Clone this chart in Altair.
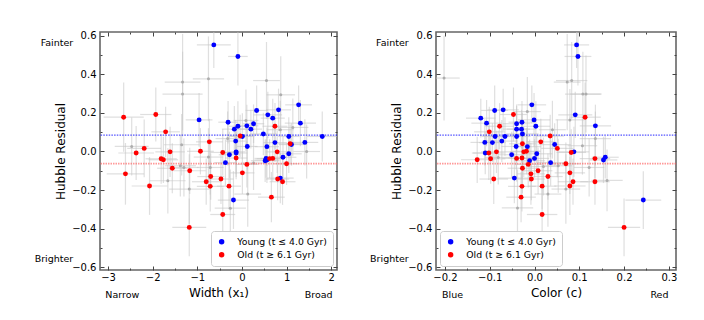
import altair as alt
import pandas as pd

# ---------------- data ----------------
young_x1 = [-0.63, -0.09, 1.27, 0.82, 0.33, 0.58, 0.69, -0.96, -0.31, 1.31, 0.26, 0.11, -0.09, -0.17, 0.20, 0.48, 0.01, 1.05, 1.80, -0.14, 1.41, 0.74, 1.11, 0.12, 0.56, -0.13, -0.13, 1.05, -0.28, 0.92, 0.54, 0.56, 0.52, -0.37, 0.86, -0.19]
young_c = [0.094, 0.097, -0.006, -0.070, -0.089, 0.091, -0.120, -0.001, -0.028, -0.107, -0.040, 0.136, 0.003, -0.040, -0.029, -0.027, -0.088, -0.066, -0.040, -0.073, -0.111, -0.094, 0.045, -0.041, -0.016, 0.088, -0.110, 0.005, -0.051, 0.158, 0.000, 0.154, -0.011, 0.036, -0.045, 0.243]
young_hr = [0.553, 0.493, 0.242, 0.216, 0.213, 0.190, 0.173, 0.164, 0.152, 0.147, 0.144, 0.133, 0.131, 0.116, 0.116, 0.091, 0.078, 0.078, 0.078, 0.054, 0.047, 0.046, 0.036, 0.026, 0.025, -0.002, -0.008, -0.012, -0.017, -0.030, -0.036, -0.044, -0.048, -0.058, -0.138, -0.252]
young_hr_err = [0.12, 0.15, 0.10, 0.11, 0.13, 0.12, 0.10, 0.14, 0.11, 0.12, 0.10, 0.11, 0.13, 0.12, 0.10, 0.11, 0.12, 0.10, 0.13, 0.11, 0.12, 0.10, 0.11, 0.12, 0.10, 0.13, 0.11, 0.10, 0.12, 0.11, 0.10, 0.12, 0.11, 0.12, 0.13, 0.15]
young_x1_err = [0.38, 0.22, 0.30, 0.28, 0.25, 0.32, 0.27, 0.30, 0.22, 0.35, 0.24, 0.26, 0.20, 0.28, 0.25, 0.30, 0.27, 0.24, 0.34, 0.22, 0.30, 0.26, 0.28, 0.23, 0.27, 0.21, 0.25, 0.29, 0.24, 0.30, 0.26, 0.28, 0.32, 0.25, 0.30, 0.35]
young_c_err = [0.028, 0.030, 0.032, 0.035, 0.030, 0.038, 0.033, 0.036, 0.030, 0.034, 0.031, 0.035, 0.032, 0.030, 0.033, 0.036, 0.030, 0.034, 0.031, 0.035, 0.032, 0.030, 0.036, 0.033, 0.031, 0.034, 0.030, 0.035, 0.032, 0.030, 0.033, 0.031, 0.034, 0.032, 0.036, 0.040]

old_x1 = [-1.93, -2.65, 0.74, -1.71, -0.04, -0.73, 1.08, -2.19, -0.93, -1.61, 0.79, -0.43, -2.37, -0.13, 0.69, 0.62, -1.81, -1.76, 1.00, 0.11, -1.56, -1.17, 0.01, -2.61, -0.70, -0.47, 0.80, -0.80, 0.91, -0.71, -0.29, -2.07, 0.66, -0.43, -1.18]
old_c = [-0.047, 0.113, -0.078, -0.101, 0.035, 0.014, -0.027, 0.051, -0.018, -0.024, -0.085, 0.082, -0.102, -0.028, -0.040, 0.135, -0.098, -0.128, 0.070, -0.014, -0.027, 0.008, 0.079, -0.008, 0.030, -0.091, -0.007, 0.086, 0.135, -0.028, 0.017, 0.079, -0.030, 0.017, 0.200]
old_hr = [0.192, 0.178, 0.131, 0.102, 0.080, 0.050, 0.040, 0.016, 0.001, -0.002, -0.002, -0.005, -0.008, -0.034, -0.036, -0.037, -0.038, -0.043, -0.064, -0.067, -0.087, -0.100, -0.111, -0.116, -0.130, -0.143, -0.143, -0.157, -0.157, -0.181, -0.180, -0.179, -0.237, -0.327, -0.394]
old_hr_err = [0.14, 0.18, 0.12, 0.13, 0.11, 0.12, 0.10, 0.15, 0.12, 0.13, 0.11, 0.12, 0.14, 0.11, 0.12, 0.10, 0.13, 0.12, 0.11, 0.12, 0.13, 0.12, 0.11, 0.16, 0.12, 0.13, 0.11, 0.12, 0.12, 0.13, 0.12, 0.15, 0.13, 0.14, 0.15]
old_x1_err = [0.35, 0.45, 0.28, 0.32, 0.25, 0.30, 0.27, 0.38, 0.30, 0.33, 0.26, 0.28, 0.40, 0.25, 0.27, 0.29, 0.35, 0.33, 0.28, 0.26, 0.34, 0.36, 0.27, 0.42, 0.30, 0.28, 0.26, 0.32, 0.29, 0.30, 0.27, 0.40, 0.30, 0.28, 0.38]
old_c_err = [0.030, 0.035, 0.032, 0.034, 0.031, 0.033, 0.030, 0.036, 0.032, 0.031, 0.034, 0.033, 0.035, 0.030, 0.032, 0.034, 0.033, 0.036, 0.031, 0.030, 0.033, 0.032, 0.034, 0.031, 0.033, 0.032, 0.030, 0.034, 0.033, 0.031, 0.032, 0.035, 0.033, 0.034, 0.036]

other_left_x1 = [-0.75, 0.55, -1.33, -1.33, 0.87, 0.09, 1.14, 0.86, -0.32, -1.35, -2.47, 1.45, -0.75, 0.26, -1.38, -1.30, -0.71, -1.66, -1.18, 0.13, -0.26]
other_left_hr = [0.377, 0.368, 0.360, 0.298, 0.294, 0.161, 0.125, 0.113, 0.067, 0.035, 0.026, 0.000, -0.029, -0.060, -0.074, -0.083, -0.083, -0.152, -0.195, -0.221, -0.294]
other_left_x1_err = [0.35, 0.30, 0.40, 0.45, 0.32, 0.28, 0.35, 0.30, 0.27, 0.40, 0.38, 0.30, 0.33, 0.28, 0.35, 0.33, 0.30, 0.40, 0.45, 0.30, 0.35]
other_left_hr_err = [0.22, 0.20, 0.25, 0.22, 0.20, 0.16, 0.15, 0.15, 0.14, 0.16, 0.15, 0.14, 0.15, 0.14, 0.16, 0.15, 0.14, 0.17, 0.18, 0.17, 0.20]

other_right_c = [-0.202, 0.083, 0.073, 0.108, 0.115, -0.016, 0.079, 0.040, 0.136, 0.107, -0.081, 0.020, 0.053, 0.122, 0.162, 0.070, 0.030, -0.038]
other_right_hr = [0.381, 0.368, 0.360, 0.298, 0.298, 0.207, 0.164, 0.113, 0.067, 0.030, -0.031, -0.078, -0.074, -0.083, -0.150, -0.195, -0.221, -0.293]
other_right_c_err = [0.035, 0.035, 0.030, 0.040, 0.035, 0.030, 0.032, 0.030, 0.035, 0.033, 0.030, 0.032, 0.030, 0.034, 0.035, 0.032, 0.030, 0.035]
other_right_hr_err = [0.22, 0.20, 0.25, 0.22, 0.20, 0.18, 0.16, 0.15, 0.14, 0.15, 0.14, 0.15, 0.14, 0.15, 0.16, 0.18, 0.17, 0.20]

mean_hr_young = 0.085
mean_hr_old = -0.063

YOUNG = "Young (t ≤ 4.0 Gyr)"
OLD = "Old (t ≥ 6.1 Gyr)"

FONT = "DejaVu Sans"
Y_DOMAIN = [-0.615, 0.62]
Y_MAJOR = [-0.6, -0.4, -0.2, 0.0, 0.2, 0.4, 0.6]
Y_MINOR = [-0.5, -0.3, -0.1, 0.1, 0.3, 0.5]


def frame(xs, ys, ex, ey):
    rows = []
    for x, y, a, b in zip(xs, ys, ex, ey):
        rows.append({"x": x, "y": y, "xlo": x - a, "xhi": x + a, "ylo": y - b, "yhi": y + b})
    return pd.DataFrame(rows)


def tick_axis(orient, values, size, labels=False, **kw):
    return alt.Axis(orient=orient, values=values, tickSize=size, offset=-size,
                    labels=labels, domain=False, grid=False, title="",
                    tickColor="#444", tickWidth=1, **kw)


def panel(x_vals, x_err, x_domain, x_major, x_minor, x_title, fmt,
          other_x, other_y, other_xe, other_ye, legend_orient,
          side_x, low_labels, low_x, width):
    young = frame(x_vals[0], young_hr, x_err[0], young_hr_err)
    young["g"] = YOUNG
    old = frame(x_vals[1], old_hr, x_err[1], old_hr_err)
    old["g"] = OLD
    col = pd.concat([young, old], ignore_index=True)
    oth = frame(other_x, other_y, other_xe, other_ye)
    allpts = pd.concat([col, oth], ignore_index=True)

    xs = alt.Scale(domain=x_domain, nice=False, zero=False)
    ys = alt.Scale(domain=Y_DOMAIN, nice=False, zero=False)

    xerr = alt.Chart(allpts).mark_rule(color="#c4c4c4", opacity=0.55, strokeWidth=1.2, clip=True).encode(
        x=alt.X("xlo:Q", scale=xs, axis=tick_axis("top", x_major, 4)),
        x2="xhi:Q",
        y=alt.Y("y:Q", scale=ys, axis=tick_axis("right", Y_MAJOR, 4)),
    )
    yerr = alt.Chart(allpts).mark_rule(color="#c4c4c4", opacity=0.55, strokeWidth=1.2, clip=True).encode(
        x=alt.X("x:Q", scale=xs, axis=tick_axis("bottom", x_minor, 2)),
        y=alt.Y("ylo:Q", scale=ys, axis=tick_axis("left", Y_MINOR, 2)),
        y2="yhi:Q",
    )
    grey = alt.Chart(oth).mark_circle(color="#a9a9a9", size=9, opacity=0.9).encode(
        x=alt.X("x:Q", scale=xs, axis=tick_axis("top", x_minor, 2)),
        y=alt.Y("y:Q", scale=ys, axis=tick_axis("right", Y_MINOR, 2)),
    )
    pts = alt.Chart(col).mark_circle(size=24, opacity=1).encode(
        x=alt.X("x:Q", scale=xs, axis=alt.Axis(
            orient="bottom", values=x_major, tickSize=4, offset=-4, domain=False, grid=False,
            title=x_title, titlePadding=5, titleFontSize=12, titleFontWeight="normal",
            labelPadding=2, labelFontSize=10, format=fmt, tickColor="#444", labelColor="black")),
        y=alt.Y("y:Q", scale=ys, axis=alt.Axis(
            orient="left", values=Y_MAJOR, tickSize=4, offset=-4, domain=False, grid=False,
            title="Hubble Residual", titlePadding=4, titleFontSize=12, titleFontWeight="normal",
            labelPadding=4, labelFontSize=10, format=".1f", tickColor="#444", labelColor="black")),
        color=alt.Color("g:N", scale=alt.Scale(domain=[YOUNG, OLD], range=["#0000ff", "#ff0000"]),
                        legend=alt.Legend(title=None, orient=legend_orient, offset=4,
                                          fillColor="white", strokeColor="#cccccc", cornerRadius=3,
                                          padding=6, labelFontSize=9.3, labelFont=FONT,
                                          labelOffset=11, symbolType="circle", symbolSize=30,
                                          rowPadding=3, labelColor="black")),
    )
    hl_y = alt.Chart(pd.DataFrame({"y": [mean_hr_young]})).mark_rule(
        color="#0000ff", strokeDash=[1.5, 1.2], strokeWidth=1, opacity=0.85).encode(
        y=alt.Y("y:Q", scale=ys, axis=None))
    hl_o = alt.Chart(pd.DataFrame({"y": [mean_hr_old]})).mark_rule(
        color="#ff5555", strokeDash=[1.5, 1.0], strokeWidth=1.8, opacity=0.6).encode(
        y=alt.Y("y:Q", scale=ys, axis=None))

    side = pd.DataFrame({"x": [side_x, side_x], "y": [0.562, -0.558], "t": ["Fainter", "Brighter"]})
    side_txt = alt.Chart(side).mark_text(align="right", baseline="middle", fontSize=9.5, font=FONT,
                                         color="black").encode(
        x=alt.X("x:Q", scale=xs, axis=None), y=alt.Y("y:Q", scale=ys, axis=None), text="t:N")
    low = pd.DataFrame({"x": low_x, "y": [-0.745, -0.745], "t": low_labels})
    low_txt = alt.Chart(low).mark_text(align="center", baseline="middle", fontSize=9.5, font=FONT,
                                       color="black").encode(
        x=alt.X("x:Q", scale=xs, axis=None), y=alt.Y("y:Q", scale=ys, axis=None), text="t:N")

    return alt.layer(xerr, yerr, grey, hl_y, hl_o, pts, side_txt, low_txt).resolve_axis(
        x="independent", y="independent").properties(width=width, height=238)


left = panel([young_x1, old_x1], [young_x1_err, old_x1_err], [-3.18, 2.13],
             [-3, -2, -1, 0, 1, 2], [-2.5, -1.5, -0.5, 0.5, 1.5], "Width (x₁)", "d",
             other_left_x1, other_left_hr, other_left_x1_err, other_left_hr_err,
             "bottom-right", -3.78, ["Narrow", "Broad"], [-2.68, 1.72], 237)
right = panel([young_c, old_c], [young_c_err, old_c_err], [-0.22, 0.316],
              [-0.2, -0.1, 0.0, 0.1, 0.2, 0.3], [-0.15, -0.05, 0.05, 0.15, 0.25], "Color (c)", ".1f",
              other_right_c, other_right_hr, other_right_c_err, other_right_hr_err,
              "bottom-left", -0.281, ["Blue", "Red"], [-0.183, 0.279], 240)

chart = alt.hconcat(left, right, spacing=99, bounds="flush").resolve_scale(
    color="independent", x="independent", y="independent").properties(
    padding={"left": 25, "top": 22, "right": 5, "bottom": 5}).configure_view(
    stroke="#666666", strokeWidth=1.6).configure_axis(
    labelFont=FONT, titleFont=FONT).configure_text(font=FONT)

chart.save("out.html", embed_options={"renderer": "svg", "actions": False})
